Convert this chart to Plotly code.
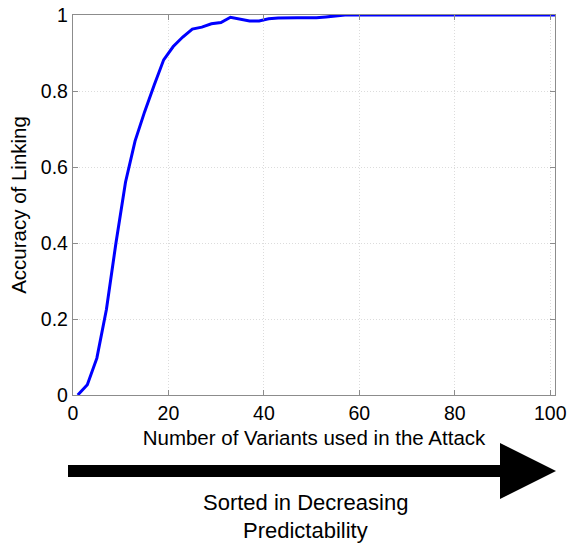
import plotly.graph_objects as go

# Data
variants = list(range(1, 102, 2))
accuracy_head = [0.0, 0.027, 0.097, 0.225, 0.40, 0.56, 0.668, 0.745, 0.815, 0.882,
                 0.917, 0.942, 0.963, 0.968, 0.977, 0.980, 0.994, 0.989, 0.984, 0.984,
                 0.990, 0.992, 0.993, 0.993, 0.993, 0.993, 0.995, 0.997]
accuracy = accuracy_head + [1.0] * (len(variants) - len(accuracy_head))

x_ticks = [0, 20, 40, 60, 80, 100]
y_ticks = [0, 0.2, 0.4, 0.6, 0.8, 1]
y_tick_labels = ["0", "0.2", "0.4", "0.6", "0.8", "1"]

W, H = 569, 544
ML, MR, MT, MB = 73, 14, 15, 149
PW, PH = W - ML - MR, H - MT - MB


def px(x):
    return (x - ML) / PW


def py(y):
    return (H - MB - y) / PH


fig = go.Figure()
fig.add_trace(go.Scatter(x=variants, y=accuracy, mode="lines",
                         line=dict(color="#0000ff", width=3), showlegend=False))

font = dict(family="Liberation Sans, Arial, sans-serif", size=19.5, color="#000000")
title_font = dict(family="Liberation Sans, Arial, sans-serif", size=20.5, color="#000000")
axis_common = dict(showline=True, linecolor="#8c8c8c", linewidth=1.3, mirror="ticks",
                   ticks="inside", ticklen=5, tickcolor="#8c8c8c",
                   showgrid=True, gridcolor="#dcdcdc", griddash="1px,2px", gridwidth=1,
                   zeroline=False, tickfont=font, automargin=False)

fig.update_xaxes(range=[0, 101], tickvals=x_ticks,
                 title=dict(text="Number of Variants used in the Attack", font=title_font, standoff=8),
                 **axis_common)
fig.update_yaxes(range=[0, 1], tickvals=y_ticks, ticktext=y_tick_labels,
                 title=dict(text="Accuracy of Linking", font=title_font, standoff=8),
                 **axis_common)

# Arrow below the axis
shaft = dict(type="rect", xref="paper", yref="paper",
             x0=px(68), x1=px(501), y0=py(465), y1=py(477),
             fillcolor="#000000", line=dict(width=0))
head_path = "M {} {} L {} {} L {} {} Z".format(px(500), py(443), px(500), py(499), px(556), py(471))
head = dict(type="path", xref="paper", yref="paper", path=head_path,
            fillcolor="#000000", line=dict(width=0))
fig.update_layout(shapes=[shaft, head])

big_font = dict(family="Liberation Sans, Arial, sans-serif", size=22, color="#000000")
fig.add_annotation(text="Sorted in Decreasing", xref="paper", yref="paper",
                   x=px(305), y=py(502), xanchor="center", yanchor="middle",
                   showarrow=False, font=big_font)
fig.add_annotation(text="Predictability", xref="paper", yref="paper",
                   x=px(305), y=py(530), xanchor="center", yanchor="middle",
                   showarrow=False, font=big_font)

fig.update_layout(width=W, height=H, margin=dict(l=ML, r=MR, t=MT, b=MB, autoexpand=False),
                  paper_bgcolor="#ffffff", plot_bgcolor="#ffffff")

fig.write_html("out.html")
